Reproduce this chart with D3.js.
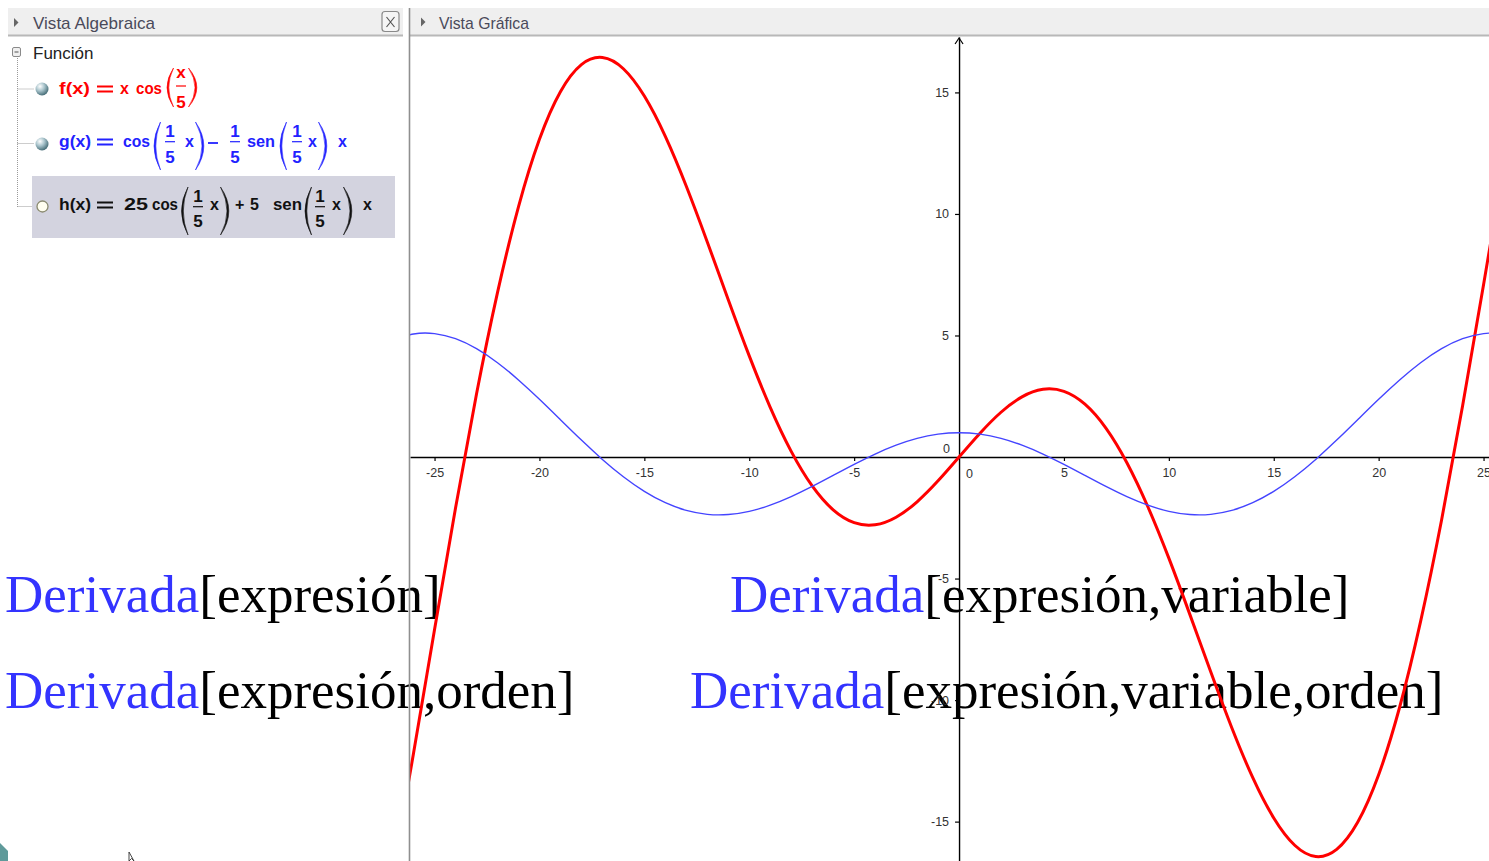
<!DOCTYPE html>
<html>
<head>
<meta charset="utf-8">
<script src="https://cdn.jsdelivr.net/npm/d3@7"></script>
<style>
  html, body { margin: 0; padding: 0; background: #fff; overflow: hidden; }
  svg { display: block; }
</style>
</head>
<body>
<script>
// window size
var width = 1489;
var height = 861;

// sample points (x step 1)
var xs = [-27,-26,-25,-24,-23,-22,-21,-20,-19,-18,-17,-16,-15,-14,-13,-12,-11,-10,-9,-8,-7,-6,-5,-4,-3,-2,-1,
  0,1,2,3,4,5,6,7,8,9,10,11,12,13,14,15,16,17,18,19,20,21,22,23,24,25,26,27];
var fValues = [-17.137,-12.181,-7.092,-2.100,2.590,6.761,10.295,13.073,15.028,16.142,16.436,15.973,14.850,13.191,
  11.140,8.849,6.474,4.161,2.045,0.234,-1.190,-2.174,-2.702,-2.787,-2.476,-1.842,-0.980,0,
  0.980,1.842,2.476,2.787,2.702,2.174,1.190,-0.234,-2.045,-4.161,-6.474,-8.849,-11.140,-13.191,
  -14.850,-15.973,-16.436,-16.142,-15.028,-13.073,-10.295,-6.761,-2.590,2.100,7.092,12.181,17.137];
var gValues = [4.808,5.062,5.078,4.869,4.458,3.880,3.170,2.374,1.534,0.696,-0.098,-0.811,-1.413,-1.880,
  -2.197,-2.359,-2.367,-2.235,-1.980,-1.629,-1.210,-0.756,-0.301,0.123,0.487,0.765,0.940,1,
  0.940,0.765,0.487,0.123,-0.301,-0.756,-1.210,-1.629,-1.980,-2.235,-2.367,-2.359,-2.197,-1.880,
  -1.413,-0.811,-0.098,0.696,1.534,2.374,3.170,3.880,4.458,4.869,5.078,5.062,4.808];

// axis ticks
var xTicks = [-25,-20,-15,-10,-5,5,10,15,20,25];
var yTicks = [-15,-10,-5,5,10,15];

// panel titles and command lines
var panelTitles = ["Vista Algebraica", "Vista Gráfica"];
var treeTitle = "Función";
var commandName = "Derivada";
var commandArgs = ["[expresión]", "[expresión,orden]", "[expresión,variable]", "[expresión,variable,orden]"];

var svg = d3.select("body").append("svg").attr("width", width).attr("height", height);
svg.append("rect").attr("width", width).attr("height", height).attr("fill", "#fff");

// big overlay text (drawn underneath the screenshot parts)
var cmdPos = [[5, 612], [5, 708], [730, 612], [690, 708]];
commandArgs.forEach(function(a, i) {
  var t = svg.append("text")
    .attr("x", cmdPos[i][0]).attr("y", cmdPos[i][1])
    .attr("font-family", "'Liberation Serif', 'Times New Roman', serif")
    .attr("font-size", 53);
  t.append("tspan").attr("fill", "#3333ff").text(commandName);
  t.append("tspan").attr("fill", "#000").text(a);
});

// ---------- graphics view ----------
var x = d3.scaleLinear().domain([-26.17, 25.26]).range([410, 1489]);
var y = d3.scaleLinear().domain([-16.62, 17.28]).range([861, 37]);

svg.append("clipPath").attr("id", "clip").append("rect")
  .attr("x", 410).attr("y", 37).attr("width", 1079).attr("height", 824);

var xAxis = d3.axisBottom(x).tickValues(xTicks).tickSize(4).tickSizeOuter(0).tickPadding(7.5)
  .tickFormat(function(d){ return String(d); });
var yAxis = d3.axisLeft(y).tickValues(yTicks).tickSize(4).tickSizeOuter(0).tickPadding(6)
  .tickFormat(function(d){ return String(d); });

var gx = svg.append("g").attr("transform", "translate(0," + y(0) + ")").call(xAxis);
var gy = svg.append("g").attr("transform", "translate(" + x(0) + ",0)").call(yAxis);
[gx, gy].forEach(function(g) {
  g.select(".domain").attr("stroke", "#000").attr("stroke-width", 1.4);
  g.selectAll(".tick line").attr("stroke", "#000").attr("stroke-width", 1.2);
  g.selectAll(".tick text").attr("fill", "#333")
    .attr("font-family", "'Liberation Sans', Arial, sans-serif").attr("font-size", 12.5);
});
svg.append("text").attr("x", x(0) + 7).attr("y", y(0) + 20.5).text("0")
  .attr("fill", "#333").attr("font-family", "'Liberation Sans', Arial, sans-serif").attr("font-size", 12.5);
svg.append("text").attr("x", x(0) - 9).attr("y", y(0) - 4).attr("text-anchor", "end").text("0")
  .attr("fill", "#333").attr("font-family", "'Liberation Sans', Arial, sans-serif").attr("font-size", 12.5);
// arrow on top of y axis
svg.append("path").attr("d", "M" + (x(0) - 4) + ",44 L" + x(0) + ",38 L" + (x(0) + 4) + ",44")
  .attr("fill", "none").attr("stroke", "#000").attr("stroke-width", 1.2);

var line = d3.line().x(function(d){ return x(d[0]); }).y(function(d){ return y(d[1]); })
  .curve(d3.curveNatural);
var plot = svg.append("g").attr("clip-path", "url(#clip)");
plot.append("path").attr("d", line(xs.map(function(v, i){ return [v, fValues[i]]; })))
  .attr("fill", "none").attr("stroke", "#ff0000").attr("stroke-width", 3);
plot.append("path").attr("d", line(xs.map(function(v, i){ return [v, gValues[i]]; })))
  .attr("fill", "none").attr("stroke", "#4444ff").attr("stroke-width", 1.4);

// ---------- panel chrome ----------
svg.append("rect").attr("x", 8).attr("y", 8).attr("width", 395).attr("height", 27).attr("fill", "#efefef");
svg.append("rect").attr("x", 410).attr("y", 8).attr("width", 1079).attr("height", 27).attr("fill", "#efefef");
svg.append("line").attr("x1", 8).attr("x2", 403).attr("y1", 35.5).attr("y2", 35.5).attr("stroke", "#b8b8b8").attr("stroke-width", 2);
svg.append("line").attr("x1", 410).attr("x2", 1489).attr("y1", 35.5).attr("y2", 35.5).attr("stroke", "#b8b8b8").attr("stroke-width", 2);
svg.append("line").attr("x1", 409.5).attr("x2", 409.5).attr("y1", 8).attr("y2", 861).attr("stroke", "#8f8f8f").attr("stroke-width", 1.6);

svg.append("path").attr("d", "M14,18 L18.5,22.5 L14,27 Z").attr("fill", "#666");
svg.append("path").attr("d", "M421,17.5 L425.5,22 L421,26.5 Z").attr("fill", "#666");
var titleX = [[33, 155], [439, 529]];
panelTitles.forEach(function(s, i) {
  svg.append("text").attr("x", titleX[i][0]).attr("y", 28.5)
    .attr("textLength", titleX[i][1] - titleX[i][0]).attr("lengthAdjust", "spacingAndGlyphs")
    .attr("font-family", "'Liberation Sans', Arial, sans-serif").attr("font-size", 17)
    .attr("fill", "#4a4a5a").text(s);
});
// close box
svg.append("rect").attr("x", 382).attr("y", 11.5).attr("width", 17).attr("height", 20).attr("rx", 3)
  .attr("fill", "#f5f5f5").attr("stroke", "#8a8a8a").attr("stroke-width", 1.2);
svg.append("path").attr("d", "M386.5,17 L394.5,27 M394.5,17 L386.5,27").attr("stroke", "#555").attr("stroke-width", 1.2);

// tree
svg.append("rect").attr("x", 12.5).attr("y", 47.5).attr("width", 8).attr("height", 9).attr("rx", 1.5)
  .attr("fill", "#f0f0f0").attr("stroke", "#8a8a8a");
svg.append("line").attr("x1", 14.5).attr("x2", 18.5).attr("y1", 52).attr("y2", 52).attr("stroke", "#555");
svg.append("text").attr("x", 33).attr("y", 59).attr("font-family", "'Liberation Sans', Arial, sans-serif")
  .attr("font-size", 17).attr("fill", "#222").text(treeTitle);
svg.append("path").attr("d", "M17.5,58 V207 M17.5,89 H34 M17.5,143.5 H34 M17.5,206.5 H32")
  .attr("stroke", "#9a9a9a").attr("stroke-dasharray", "1,1").attr("fill", "none");

svg.append("rect").attr("x", 32).attr("y", 176).attr("width", 363).attr("height", 62).attr("fill", "#d3d3df");

var grad = svg.append("defs").append("radialGradient").attr("id", "ball").attr("cx", "35%").attr("cy", "30%").attr("r", "75%");
grad.append("stop").attr("offset", "0%").attr("stop-color", "#ffffff");
grad.append("stop").attr("offset", "45%").attr("stop-color", "#a9c4cc");
grad.append("stop").attr("offset", "100%").attr("stop-color", "#3e6670");
svg.append("circle").attr("cx", 42).attr("cy", 89).attr("r", 6.5).attr("fill", "url(#ball)");
svg.append("circle").attr("cx", 42).attr("cy", 144).attr("r", 6.5).attr("fill", "url(#ball)");
svg.append("circle").attr("cx", 42.5).attr("cy", 206.5).attr("r", 5.5).attr("fill", "#fffef0")
  .attr("stroke", "#8a8a70").attr("stroke-width", 1.3);

// formula helpers
var fam = "'Liberation Sans', Arial, sans-serif";
function piece(x0, x1, base, s, col, size) {
  var t = svg.append("text").attr("x", x0).attr("y", base).attr("fill", col)
    .attr("font-family", fam).attr("font-weight", "bold").attr("font-size", size || 16).text(s);
  if (x1 && s.length > 1) t.attr("textLength", x1 - x0).attr("lengthAdjust", "spacingAndGlyphs");
}
function eq(x0, x1, base, col) {
  svg.append("path").attr("d", "M" + x0 + "," + (base - 7.5) + " H" + x1 + " M" + x0 + "," + (base - 2.5) + " H" + x1)
    .attr("stroke", col).attr("stroke-width", 1.8);
}
function paren(a, b, y1, y2, col) {
  var m = (y1 + y2) / 2;
  var c1 = 2 * a - b, c2 = 2 * (a + 1.8) - b;
  svg.append("path").attr("d", "M" + b + "," + y1 + " Q" + c1 + "," + m + " " + b + "," + y2 +
    " Q" + c2 + "," + m + " " + b + "," + y1 + "Z").attr("fill", col).attr("stroke", col).attr("stroke-width", 0.6);
}
function frac(cx, num, nb, ly, db, col) {
  svg.append("text").attr("x", cx).attr("y", nb).attr("text-anchor", "middle").attr("fill", col)
    .attr("font-family", fam).attr("font-weight", "bold").attr("font-size", 17).text(num);
  svg.append("line").attr("x1", cx - 5).attr("x2", cx + 5).attr("y1", ly).attr("y2", ly)
    .attr("stroke", col).attr("stroke-width", 1.2);
  svg.append("text").attr("x", cx).attr("y", db).attr("text-anchor", "middle").attr("fill", col)
    .attr("font-family", fam).attr("font-weight", "bold").attr("font-size", 17).text("5");
}

// f(x) = x cos(x/5)
var cf = "#ff0000";
piece(59, 90, 94, "f(x)", cf); eq(97, 113, 94, cf); piece(120, 0, 94, "x", cf); piece(136, 162, 94, "cos", cf);
paren(167, 173.5, 68, 107, cf); frac(181, "x", 78, 86, 108, cf); paren(195, 188.5, 68, 107, cf);

// g(x) = cos(1/5 x) - 1/5 sen(1/5 x) x
var cg = "#2222ff";
piece(59, 91, 147, "g(x)", cg); eq(97, 113, 147, cg); piece(123, 150, 147, "cos", cg);
paren(154, 160.5, 122, 170, cg); frac(170, "1", 137, 141.7, 163, cg); piece(185, 0, 147, "x", cg);
paren(202, 195.5, 122, 170, cg);
svg.append("line").attr("x1", 208).attr("x2", 218).attr("y1", 143).attr("y2", 143).attr("stroke", cg).attr("stroke-width", 1.8);
frac(235, "1", 137, 141.7, 163, cg); piece(247, 275, 147, "sen", cg);
paren(280, 286.5, 122, 170, cg); frac(297, "1", 137, 141.7, 163, cg); piece(308, 0, 147, "x", cg);
paren(325, 318.5, 122, 170, cg); piece(338, 0, 147, "x", cg);

// h(x) = 25 cos(1/5 x) + 5 sen(1/5 x) x
var ch = "#111";
piece(59, 91, 210, "h(x)", ch); eq(97, 113, 210, ch); piece(124, 148, 210, "25", ch); piece(152, 178, 210, "cos", ch);
paren(181.5, 188, 187, 235, ch); frac(198, "1", 202, 206.7, 227, ch); piece(210, 0, 210, "x", ch);
paren(227, 220.5, 187, 235, ch); piece(235, 0, 210, "+", ch); piece(250, 0, 210, "5", ch);
piece(273, 302, 210, "sen", ch);
paren(305, 311.5, 187, 235, ch); frac(320, "1", 202, 206.7, 227, ch); piece(332, 0, 210, "x", ch);
paren(350, 343.5, 187, 235, ch); piece(363, 0, 210, "x", ch);

// bottom-left corner bits
svg.append("path").attr("d", "M0,843 L8,851 L8,861 L0,861 Z").attr("fill", "#5f9a9a");
svg.append("path").attr("d", "M129,852 L129,861 L131.5,858.5 L134,861 Z").attr("fill", "#fff").attr("stroke", "#333").attr("stroke-width", 0.9);
</script>
</body>
</html>
